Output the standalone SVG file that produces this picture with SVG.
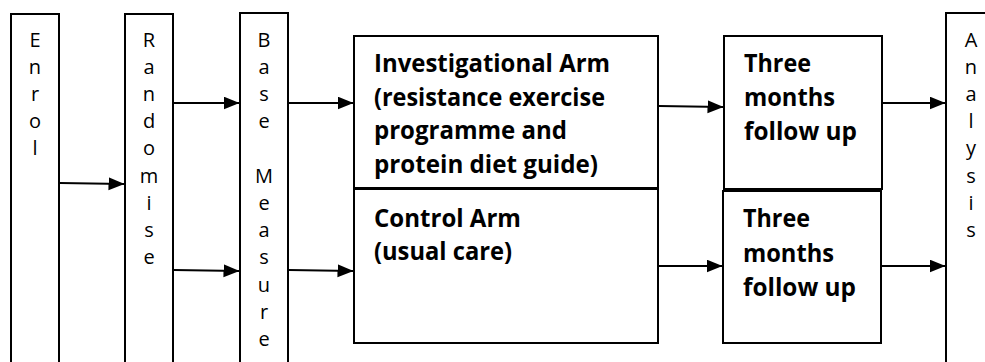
<svg xmlns="http://www.w3.org/2000/svg" width="985" height="362" viewBox="0 0 985 362">
<style>
  .box { fill: #fff; stroke: #000; stroke-width: 2; }
  .v { font-family: "Open Sans", "Liberation Sans", sans-serif; font-size: 20px; fill: #000; text-anchor: middle; }
  .b { font-family: "Open Sans", "Liberation Sans", sans-serif; font-size: 24.5px; font-weight: bold; fill: #000; }
  .conn { stroke: #000; stroke-width: 2; fill: none; marker-end: url(#arrow); }
</style>
<defs>
  <marker id="arrow" markerUnits="userSpaceOnUse" markerWidth="17" markerHeight="14" refX="15.5" refY="6.5" orient="auto">
    <path d="M0,0 L16,6.5 L0,13 Z" fill="#000"/>
  </marker>
  <clipPath id="invClip"><rect x="354" y="36" width="304" height="144"/></clipPath>
</defs>
<rect width="985" height="362" fill="#fff"/>

<g id="enrol">
  <rect class="box" x="11" y="14" width="48" height="360"/>
  <text class="v"><tspan x="35" y="47">E</tspan><tspan x="35" y="74">n</tspan><tspan x="35" y="101">r</tspan><tspan x="35" y="128">o</tspan><tspan x="35" y="155">l</tspan></text>
</g>

<g id="randomise">
  <rect class="box" x="125" y="14" width="48" height="360"/>
  <text class="v"><tspan x="149" y="47">R</tspan><tspan x="149" y="74">a</tspan><tspan x="149" y="101">n</tspan><tspan x="149" y="128">d</tspan><tspan x="149" y="155">o</tspan><tspan x="149" y="183">m</tspan><tspan x="149" y="210">i</tspan><tspan x="149" y="237">s</tspan><tspan x="149" y="264">e</tspan></text>
</g>

<g id="base-measure">
  <rect class="box" x="240" y="13" width="48" height="360"/>
  <text class="v"><tspan x="264" y="47">B</tspan><tspan x="264" y="74">a</tspan><tspan x="264" y="101">s</tspan><tspan x="264" y="128">e</tspan><tspan x="264" y="183">M</tspan><tspan x="264" y="210">e</tspan><tspan x="264" y="237">a</tspan><tspan x="264" y="264">s</tspan><tspan x="264" y="292">u</tspan><tspan x="264" y="319">r</tspan><tspan x="264" y="346">e</tspan></text>
</g>

<g id="investigational-arm">
  <rect class="box" x="354" y="36" width="304" height="152"/>
  <g clip-path="url(#invClip)">
    <text class="b" x="374" y="72" textLength="236" lengthAdjust="spacingAndGlyphs">Investigational Arm</text>
    <text class="b" x="374" y="106" textLength="231" lengthAdjust="spacingAndGlyphs">(resistance exercise</text>
    <text class="b" x="374" y="139" textLength="193" lengthAdjust="spacingAndGlyphs">programme and</text>
    <text class="b" x="374" y="173" textLength="224" lengthAdjust="spacingAndGlyphs">protein diet guide)</text>
  </g>
</g>

<g id="control-arm">
  <rect class="box" x="354" y="189" width="304" height="154"/>
  <text class="b" x="374" y="227" textLength="147" lengthAdjust="spacingAndGlyphs">Control Arm</text>
  <text class="b" x="374" y="260" textLength="138" lengthAdjust="spacingAndGlyphs">(usual care)</text>
</g>

<g id="followup-top">
  <rect class="box" x="724" y="36" width="158" height="153"/>
  <text class="b" x="744" y="72" textLength="67" lengthAdjust="spacingAndGlyphs">Three</text>
  <text class="b" x="744" y="106" textLength="91" lengthAdjust="spacingAndGlyphs">months</text>
  <text class="b" x="744" y="140" textLength="113" lengthAdjust="spacingAndGlyphs">follow up</text>
</g>

<g id="followup-bottom">
  <rect class="box" x="723" y="191" width="158" height="152"/>
  <text class="b" x="743" y="227" textLength="67" lengthAdjust="spacingAndGlyphs">Three</text>
  <text class="b" x="743" y="262" textLength="91" lengthAdjust="spacingAndGlyphs">months</text>
  <text class="b" x="743" y="296" textLength="113" lengthAdjust="spacingAndGlyphs">follow up</text>
</g>

<g id="analysis">
  <rect class="box" x="946" y="13" width="48" height="360"/>
  <text class="v"><tspan x="971" y="47">A</tspan><tspan x="971" y="74">n</tspan><tspan x="971" y="101">a</tspan><tspan x="971" y="128">l</tspan><tspan x="971" y="155">y</tspan><tspan x="971" y="183">s</tspan><tspan x="971" y="210">i</tspan><tspan x="971" y="237">s</tspan></text>
</g>

<g id="connectors">
  <line class="conn" x1="60" y1="183" x2="124" y2="184"/>
  <line class="conn" x1="174" y1="103" x2="239" y2="103"/>
  <line class="conn" x1="174" y1="270" x2="239" y2="271"/>
  <line class="conn" x1="289" y1="103" x2="353" y2="103"/>
  <line class="conn" x1="289" y1="270" x2="353" y2="271"/>
  <line class="conn" x1="659" y1="106" x2="723" y2="107"/>
  <line class="conn" x1="659" y1="266" x2="722" y2="266"/>
  <line class="conn" x1="883" y1="103" x2="945" y2="103"/>
  <line class="conn" x1="882" y1="266" x2="945" y2="266"/>
</g>
</svg>
